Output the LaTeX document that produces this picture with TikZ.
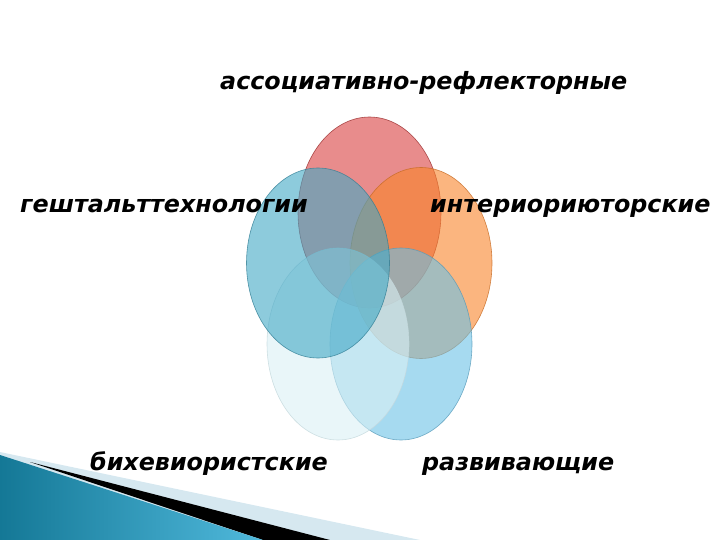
\documentclass[tikz,border=0pt]{standalone}
\usepackage{fontspec}
\setmainfont{DejaVu Sans}
\usetikzlibrary{shapes.geometric}
\definecolor{cRed}{RGB}{217,63,63}
\definecolor{cOrange}{RGB}{248,132,42}
\definecolor{cBlue}{RGB}{65,168,197}
\definecolor{cLBlue}{RGB}{107,193,230}
\definecolor{cPale}{RGB}{218,240,245}
\definecolor{bandLight}{RGB}{214,232,240}
\definecolor{tealDark}{RGB}{20,120,150}
\definecolor{tealLight}{RGB}{80,185,220}
\tikzset{
  petal/.style={draw, line width=0.6pt, fill opacity=0.6, draw opacity=0.8},
  lbl/.style={font=\fontsize{23.8}{28}\selectfont\bfseries\itshape, text=black, inner sep=0pt, anchor=base west}
}
\begin{document}
\begin{tikzpicture}[x=1pt,y=-1pt]
\useasboundingbox (0,0) rectangle (720,540);
% decoration bottom-left
\fill[bandLight] (0,452) -- (420,540) -- (0,540) -- cycle;
\fill[black] (30,462) -- (330,540) -- (263,540) -- cycle;
\shade[left color=tealDark, right color=tealLight] (0,455) -- (263,540) -- (0,540) -- cycle;
% petals
\path[petal, fill=cRed, draw=cRed!70!black] (369.5,212.5) ellipse [x radius=71.5, y radius=95.5];
\path[petal, fill=cOrange, draw=cOrange!80!black] (421,263) ellipse [x radius=71, y radius=95.5];
\path[petal, fill=cLBlue, draw=cLBlue!80!black] (401,344) ellipse [x radius=71, y radius=96];
\path[petal, fill=cPale, draw=cPale!90!black] (338,344) ellipse [x radius=71, y radius=96];
\path[petal, fill=cBlue, draw=cBlue!75!black] (318,263) ellipse [x radius=71.5, y radius=95];
% labels
\node[lbl] (t1) at (220,90) {ассоциативно-рефлекторные};
\node[lbl] (t2) at (20,212) {гештальттехнологии};
\node[lbl] (t3) at (430,212) {интериориюторские};
\node[lbl] (t4) at (90,470) {бихевиористские};
\node[lbl] (t5) at (422,470) {развивающие};
\end{tikzpicture}
\end{document}
